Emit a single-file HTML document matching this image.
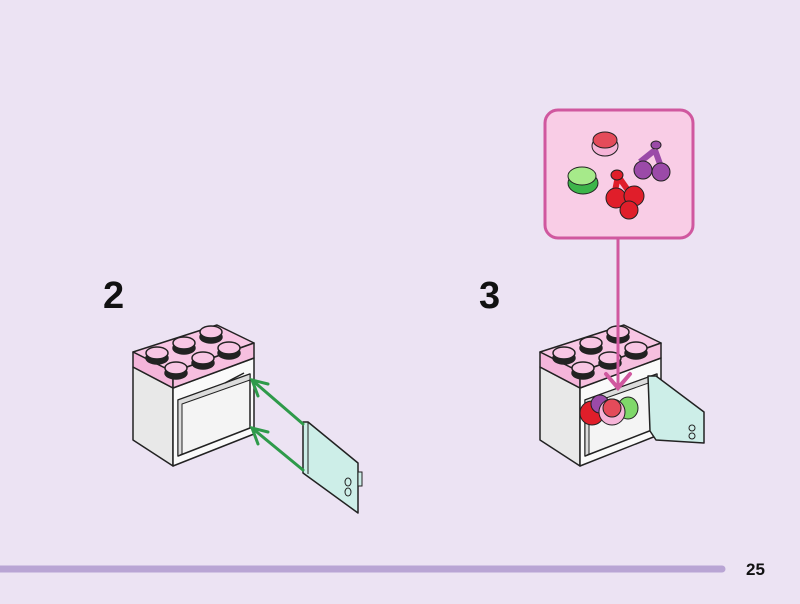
<!DOCTYPE html>
<html><head><style>
html,body{margin:0;padding:0;background:#ece3f3;width:800px;height:604px;overflow:hidden}
</style></head><body>
<svg width="800" height="604" viewBox="0 0 800 604" xmlns="http://www.w3.org/2000/svg" font-family="Liberation Sans, sans-serif">
<rect width="800" height="604" fill="#ece3f3"/>
<defs>
<g id="oven" stroke="#222" stroke-width="1.5" stroke-linejoin="round">
  <polygon points="133,367 173,388 173,466 133,440" fill="#e8e8e8"/>
  <polygon points="173,388 254,358 254,434 173,466" fill="#fafafa"/>
  <polygon points="178,400 250,374 250,428 178,456" fill="#f4f4f4"/>
  <polygon points="178,400 250,374 250,380 182,404 182,454 178,456" fill="#dcdcdc" stroke-width="1"/>
  <polygon points="133,352 217,325 254,343 173,372" fill="#f8c6e4"/>
  <polygon points="133,352 173,372 173,388 133,367" fill="#f4b5da"/>
  <polygon points="173,372 254,343 254,358 173,388" fill="#f6bfdf"/>
  <g>
    <ellipse cx="157" cy="358" rx="11" ry="6" fill="#222"/><ellipse cx="157" cy="353" rx="11" ry="6" fill="#f8c6e4"/>
    <ellipse cx="184" cy="348" rx="11" ry="6" fill="#222"/><ellipse cx="184" cy="343" rx="11" ry="6" fill="#f8c6e4"/>
    <ellipse cx="211" cy="337" rx="11" ry="6" fill="#222"/><ellipse cx="211" cy="332" rx="11" ry="6" fill="#f8c6e4"/>
    <ellipse cx="176" cy="373" rx="11" ry="6" fill="#222"/><ellipse cx="176" cy="368" rx="11" ry="6" fill="#f8c6e4"/>
    <ellipse cx="203" cy="363" rx="11" ry="6" fill="#222"/><ellipse cx="203" cy="358" rx="11" ry="6" fill="#f8c6e4"/>
    <ellipse cx="229" cy="353" rx="11" ry="6" fill="#222"/><ellipse cx="229" cy="348" rx="11" ry="6" fill="#f8c6e4"/>
  </g>
</g>
</defs>

<text x="103" y="308" font-size="38" font-weight="bold" fill="#111">2</text>
<text x="479" y="308" font-size="38" font-weight="bold" fill="#111">3</text>

<use href="#oven"/>
<line x1="225" y1="383" x2="244" y2="373" stroke="#222" stroke-width="1.5"/>
<polygon points="303,422 308,422 358,463 358,513 303,473" fill="#cdeee8" stroke="#222" stroke-width="1.5" stroke-linejoin="round"/>
<line x1="308" y1="422" x2="308" y2="474" stroke="#222" stroke-width="1"/>
<ellipse cx="348" cy="482" rx="3" ry="4" fill="none" stroke="#222"/>
<ellipse cx="348" cy="492" rx="3" ry="4" fill="none" stroke="#222"/>
<rect x="358" y="472" width="4" height="14" fill="#cdeee8" stroke="#222"/>
<g stroke="#2e9a4a" stroke-width="3" fill="none" stroke-linecap="round">
<line x1="303" y1="424" x2="252" y2="380"/>
<line x1="303" y1="470" x2="252" y2="428"/>
<polyline points="258,396 252,380 268,384"/>
<polyline points="258,444 252,428 268,432"/>
</g>

<g transform="translate(407,0)"><use href="#oven"/></g>
<circle cx="592" cy="413" r="12" fill="#e01e2a" stroke="#222"/>
<circle cx="600" cy="404" r="9" fill="#9b4aa8" stroke="#222"/>
<ellipse cx="628" cy="408" rx="10" ry="11" fill="#7fd86a" stroke="#222"/>
<ellipse cx="612" cy="412" rx="13" ry="13" fill="#f6b4d8" stroke="#222"/>
<circle cx="612" cy="408" r="9" fill="#e44b5a" stroke="#222"/>
<polygon points="648,376 656,376 704,412 704,443 656,440 650,431" fill="#cdeee8" stroke="#222" stroke-width="1.5" stroke-linejoin="round"/>
<ellipse cx="692" cy="428" rx="3" ry="3" fill="none" stroke="#222"/>
<ellipse cx="692" cy="436" rx="3" ry="3" fill="none" stroke="#222"/>

<line x1="618" y1="238" x2="618" y2="386" stroke="#d0589f" stroke-width="3"/>
<polyline points="606,374 618,388 630,374" fill="none" stroke="#d0589f" stroke-width="4" stroke-linecap="round"/>
<rect x="545" y="110" width="148" height="128" rx="13" fill="#f9cde6" stroke="#d0589f" stroke-width="3"/>
<ellipse cx="605" cy="146" rx="13" ry="10" fill="#f6b4d8" stroke="#222"/>
<ellipse cx="605" cy="140" rx="12" ry="8" fill="#e44b5a" stroke="#222"/>
<ellipse cx="583" cy="183" rx="15" ry="11" fill="#3db54a" stroke="#222"/>
<ellipse cx="582" cy="176" rx="14" ry="9" fill="#a6ea8a" stroke="#222"/>
<path d="M655,150 L640,162 M655,150 L660,164" stroke="#9b4aa8" stroke-width="6"/>
<circle cx="643" cy="170" r="9" fill="#9b4aa8" stroke="#222"/>
<circle cx="661" cy="172" r="9" fill="#9b4aa8" stroke="#222"/>
<ellipse cx="656" cy="145" rx="5" ry="4" fill="#9b4aa8" stroke="#222"/>
<path d="M618,176 L614,196 M618,176 L632,196" stroke="#e01e2a" stroke-width="6"/>
<circle cx="616" cy="198" r="10" fill="#e01e2a" stroke="#222"/>
<circle cx="634" cy="196" r="10" fill="#e01e2a" stroke="#222"/>
<circle cx="629" cy="210" r="9" fill="#e01e2a" stroke="#222"/>
<ellipse cx="617" cy="175" rx="6" ry="5" fill="#e01e2a" stroke="#222"/>

<line x1="0" y1="569" x2="722" y2="569" stroke="#b9a5d4" stroke-width="7" stroke-linecap="round"/>
<text x="746" y="575" font-size="17" font-weight="bold" fill="#111">25</text>
</svg>
</body></html>
